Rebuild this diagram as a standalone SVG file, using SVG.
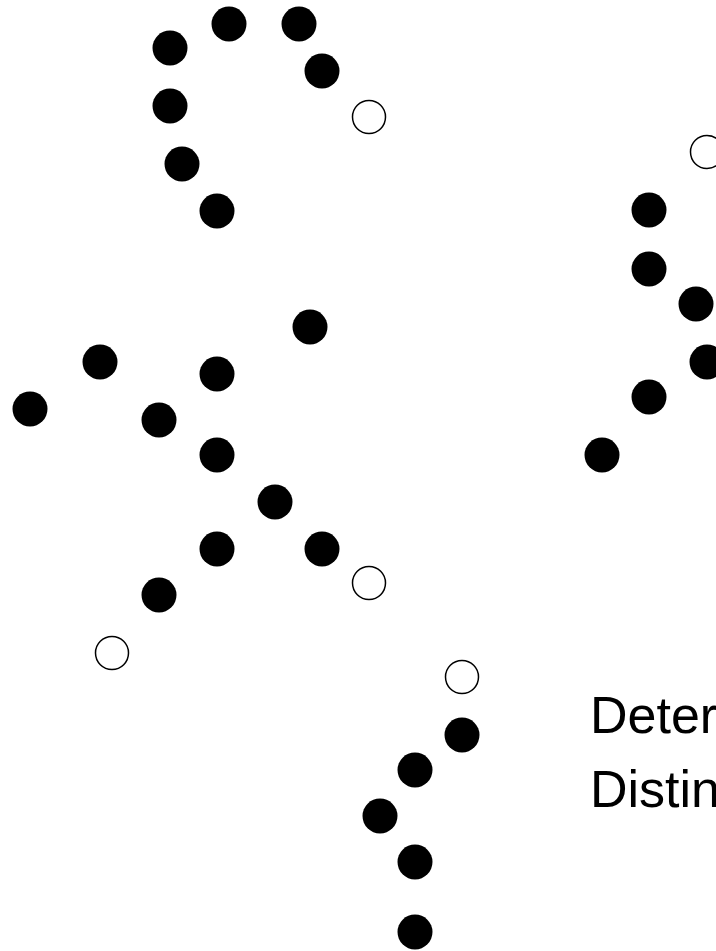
<svg xmlns="http://www.w3.org/2000/svg" width="716" height="951" viewBox="0 0 716 951">
<style>
.f{fill:#000}
.o{fill:#fff;stroke:#000;stroke-width:1.5}
.t{font-family:"Liberation Sans",Arial,sans-serif;font-size:52px;fill:#000}
</style>
<rect width="716" height="951" fill="#fff"/>
<g id="group-top">
<circle class="f" cx="170" cy="48" r="17.5"/>
<circle class="f" cx="229" cy="24" r="17.5"/>
<circle class="f" cx="299" cy="24" r="17.5"/>
<circle class="f" cx="322" cy="71" r="17.5"/>
<circle class="o" cx="369" cy="117" r="16.5"/>
<circle class="f" cx="170" cy="106" r="17.5"/>
<circle class="f" cx="182" cy="164" r="17.5"/>
<circle class="f" cx="217" cy="211" r="17.5"/>
</g>
<g id="group-middle">
<circle class="f" cx="310" cy="327" r="17.5"/>
<circle class="f" cx="100" cy="362" r="17.5"/>
<circle class="f" cx="217" cy="374" r="17.5"/>
<circle class="f" cx="30" cy="409" r="17.5"/>
<circle class="f" cx="159" cy="420" r="17.5"/>
<circle class="f" cx="217" cy="455" r="17.5"/>
<circle class="f" cx="275" cy="502" r="17.5"/>
<circle class="f" cx="217" cy="549" r="17.5"/>
<circle class="f" cx="322" cy="549" r="17.5"/>
<circle class="o" cx="369" cy="583" r="16.5"/>
<circle class="f" cx="159" cy="595" r="17.5"/>
<circle class="o" cx="112" cy="653" r="16.5"/>
</g>
<g id="group-right">
<circle class="o" cx="707" cy="152" r="16.5"/>
<circle class="f" cx="649" cy="210" r="17.5"/>
<circle class="f" cx="649" cy="269" r="17.5"/>
<circle class="f" cx="696" cy="304" r="17.5"/>
<circle class="f" cx="707" cy="362" r="17.5"/>
<circle class="f" cx="649" cy="397" r="17.5"/>
<circle class="f" cx="602" cy="455" r="17.5"/>
</g>
<g id="group-bottom">
<circle class="o" cx="462" cy="677" r="16.5"/>
<circle class="f" cx="462" cy="735" r="17.5"/>
<circle class="f" cx="415" cy="770" r="17.5"/>
<circle class="f" cx="380" cy="816" r="17.5"/>
<circle class="f" cx="415" cy="862" r="17.5"/>
<circle class="f" cx="415" cy="932" r="17.5"/>
</g>
<g id="labels">
<text class="t" x="590" y="733">Deter</text>
<text class="t" x="590" y="807">Distin</text>
</g>
<g id="connectors"/>
</svg>
